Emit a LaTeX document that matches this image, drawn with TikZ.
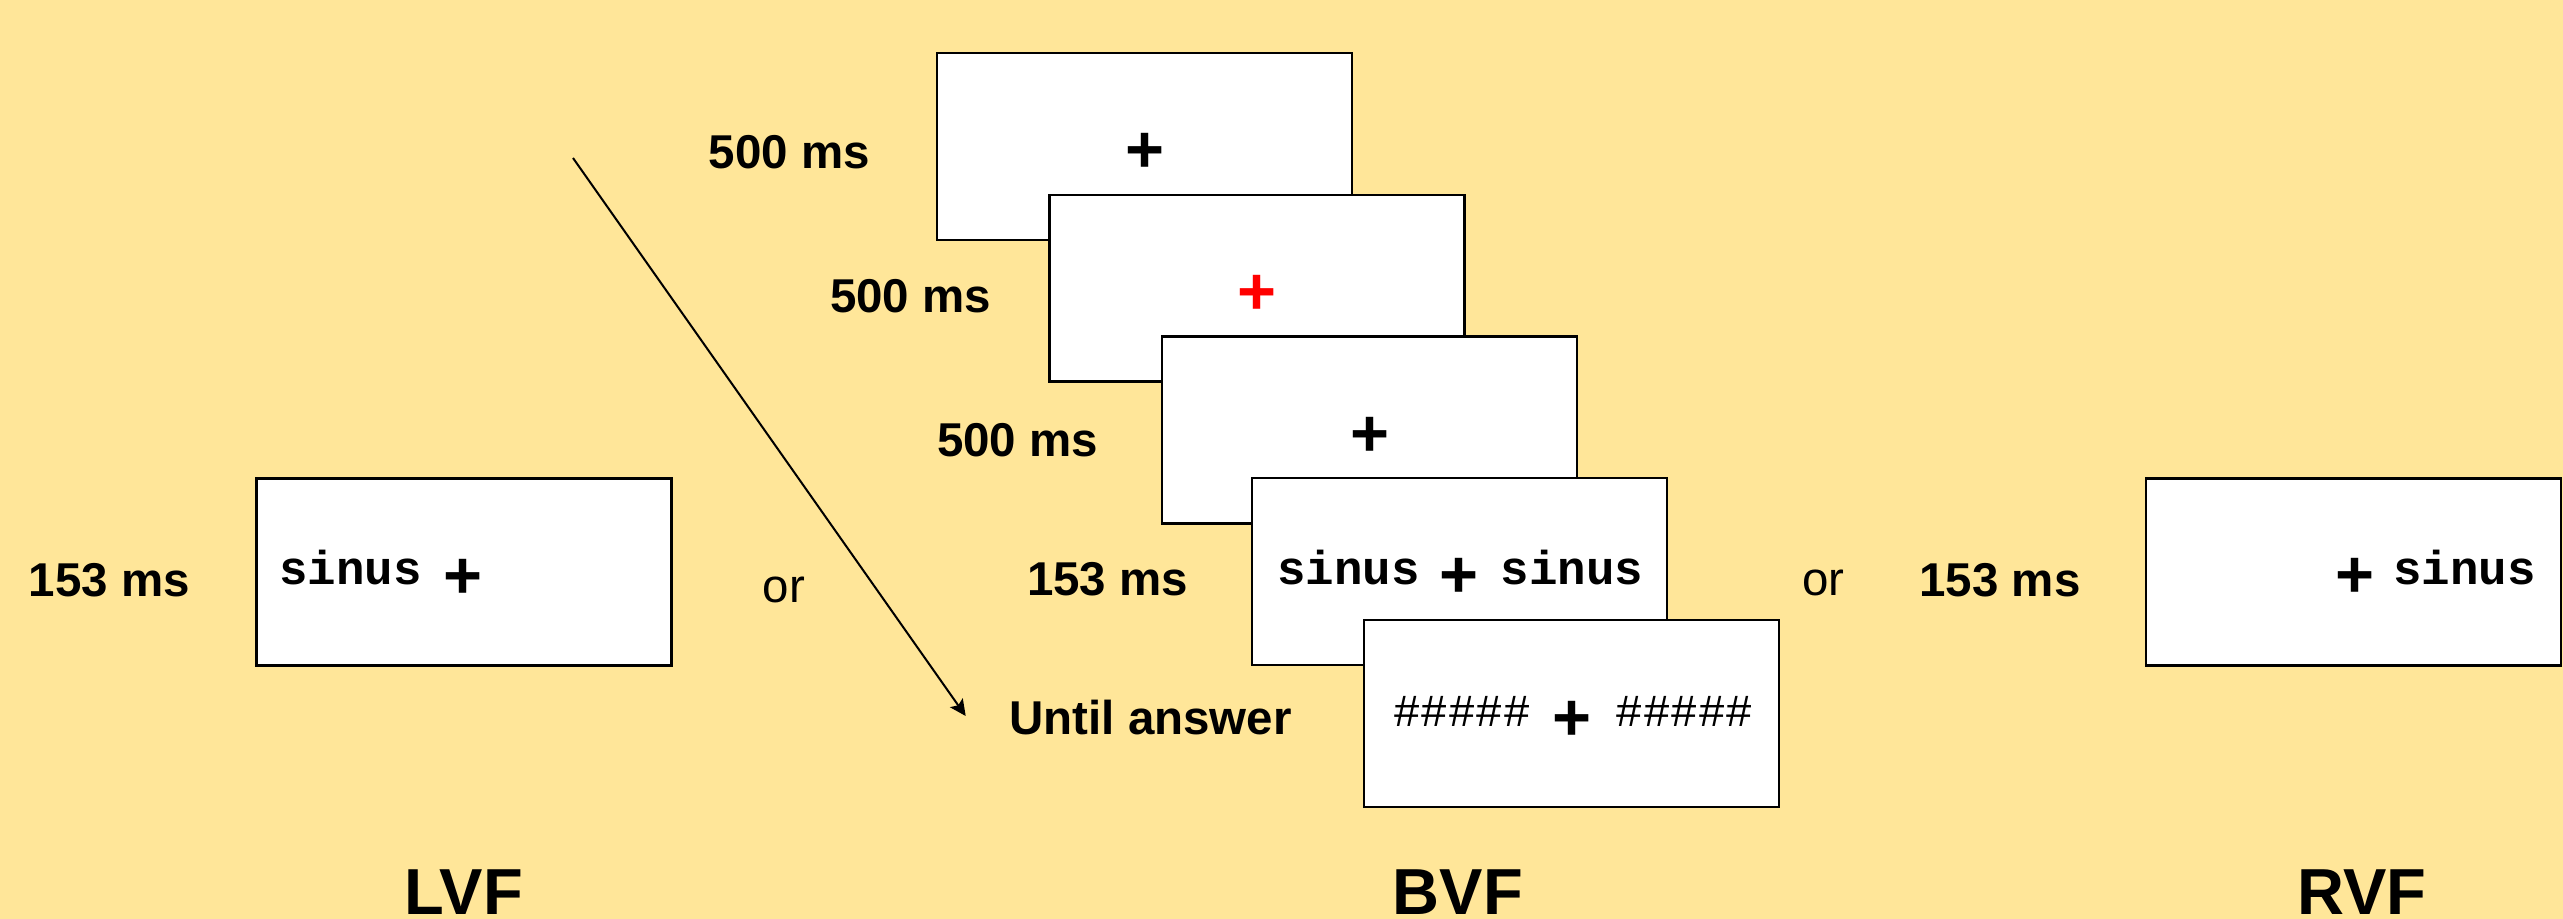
\documentclass[tikz,border=0pt]{standalone}
\usepackage{fontspec}
\setmainfont{Liberation Sans}
\setmonofont{Liberation Mono}
\usepackage{xcolor}
\usepackage{tikz}
\usetikzlibrary{shapes.geometric, arrows, arrows.meta}
\definecolor{paper}{HTML}{FFE699}
\tikzstyle{screen} = [draw=black,fill=white,line width=0.71pt,minimum width=4.145cm,minimum height=1.865cm,inner sep=0pt]
\tikzstyle{durtxt} = [font=\fontsize{13.5}{16}\selectfont\bfseries,anchor=base,inner sep=0pt]
\tikzstyle{ortext} = [font=\fontsize{13.5}{16}\selectfont,anchor=base,inner sep=0pt]
\tikzstyle{fixmark} = [font=\fontsize{19}{22}\selectfont\bfseries,inner sep=0pt]
\tikzstyle{wordtxt} = [font=\fontsize{13.5}{16}\selectfont\ttfamily\bfseries,anchor=base,inner sep=0pt]
\tikzstyle{hashes} = [font=\fontsize{13}{16}\selectfont\ttfamily,anchor=base,inner sep=0pt]
\tikzstyle{fieldname} = [font=\fontsize{18.5}{22}\selectfont\bfseries,anchor=base,inner sep=0pt]
\tikzstyle{timearrow} = [line width=0.57pt,-{Stealth[length=4.6pt,width=4.4pt,inset=0.9pt]}]

\begin{document}
\begin{tikzpicture}[x=0.01cm,y=-0.01cm]
	% Background:
	\fill[paper] (0,0) rectangle (2563,919);
	\useasboundingbox (0,0) rectangle (2563,919);

	% Left visual field:
	\node[durtxt] (durL) at (109.5,597) {153 ms};
	\node[screen] (lvf) at (464,572) {};
	\node[wordtxt] (lvfword) at (350.5,585) {sinus};
	\node[fixmark] (lvfplus) at (463.5,579) {+};
	\node[ortext] (orL) at (784,603) {or};

	% Time arrow:
	\coordinate (tstart) at (573,158);
	\coordinate (tend) at (965.7,716);
	\draw[timearrow] (tstart) -- (tend);

	% Bilateral field: the three fixation screens
	\foreach \n/\lx/\col in {0/789.5/black,1/910.5/red,2/1017.5/black}{%
		\node[durtxt] (dur\n) at (\lx,{169+144*\n}) {500 ms};
		\node[screen] (fix\n) at ({1144.5+112.5*\n},{146.5+141.75*\n}) {};
		\node[fixmark,text=\col] (plus\n) at ({1144.5+112.5*\n},{153+141.75*\n}) {+};
	}

	% Bilateral field: target and mask
	\node[durtxt] (durB) at (1107.5,596) {153 ms};
	\node[screen] (bvf) at (1459.5,571.5) {};
	\node[wordtxt] (bvfwordL) at (1348.5,585) {sinus};
	\node[fixmark] (bvfplus) at (1459,578) {+};
	\node[wordtxt] (bvfwordR) at (1572,585) {sinus};

	\node[durtxt] (until) at (1150.5,735) {Until answer};
	\node[screen] (maskbox) at (1571.5,713.5) {};
	\node[hashes] (maskL) at (1462,727) {\#\#\#\#\#};
	\node[fixmark] (maskplus) at (1572,721) {+};
	\node[hashes] (maskR) at (1684.5,727) {\#\#\#\#\#};

	\node[ortext] (orR) at (1823.5,596) {or};

	% Right visual field:
	\node[durtxt] (durR) at (2000,597) {153 ms};
	\node[screen] (rvf) at (2353.5,572) {};
	\node[fixmark] (rvfplus) at (2354.5,577.5) {+};
	\node[wordtxt] (rvfword) at (2464.5,585) {sinus};

	% Field labels:
	\node[fieldname] (lvfname) at (464,914) {LVF};
	\node[fieldname] (bvfname) at (1458,914) {BVF};
	\node[fieldname] (rvfname) at (2362,914) {RVF};
\end{tikzpicture}
\end{document}
